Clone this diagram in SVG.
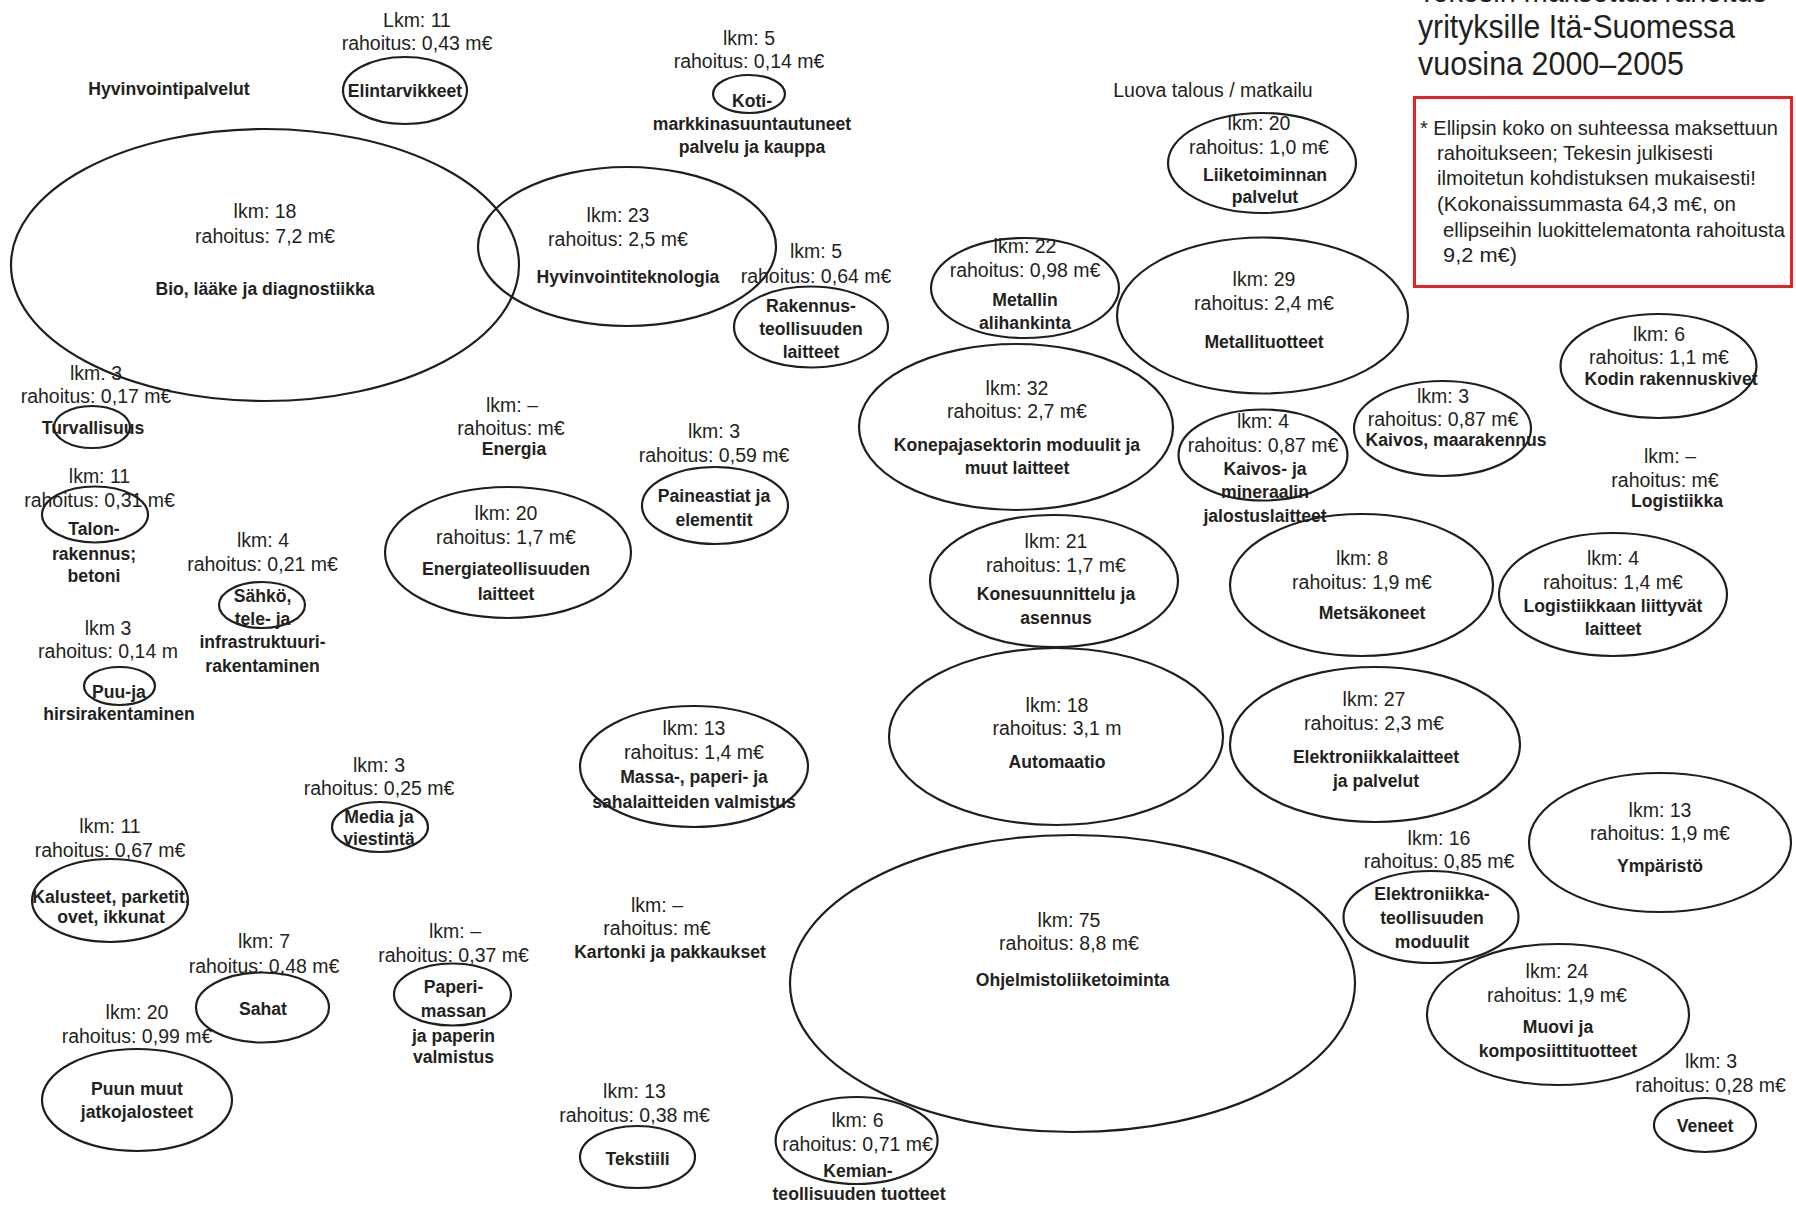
<svg xmlns="http://www.w3.org/2000/svg" width="1796" height="1205" viewBox="0 0 1796 1205">
<style>
.e{fill:none;stroke:#1e1e1e;stroke-width:2.2}
text{font-family:"Liberation Sans",Arial,sans-serif;fill:#231f20}
.n{font-size:19.5px;text-anchor:middle}
.b{font-size:17.6px;font-weight:700;text-anchor:middle}
.t{font-size:33px}
.x{font-size:21px}
</style>
<rect width="1796" height="1205" fill="#fff"/>
<g id="title">
<text class="t" x="1418" y="2" textLength="349" lengthAdjust="spacingAndGlyphs">Tekesin maksettua rahoitus</text>
<text class="t" x="1418" y="38" textLength="317" lengthAdjust="spacingAndGlyphs">yrityksille Itä-Suomessa</text>
<text class="t" x="1418" y="75" textLength="266" lengthAdjust="spacingAndGlyphs">vuosina 2000–2005</text>
</g>
<g id="note">
<rect x="1414.5" y="97.5" width="377" height="189" fill="none" stroke="#e8202a" stroke-width="3"/>
<text class="x" x="1420" y="135" textLength="358" lengthAdjust="spacingAndGlyphs">* Ellipsin koko on suhteessa maksettuun</text>
<text class="x" x="1437" y="160" textLength="276" lengthAdjust="spacingAndGlyphs">rahoitukseen; Tekesin julkisesti</text>
<text class="x" x="1437" y="185" textLength="319" lengthAdjust="spacingAndGlyphs">ilmoitetun kohdistuksen mukaisesti!</text>
<text class="x" x="1437" y="211" textLength="299" lengthAdjust="spacingAndGlyphs">(Kokonaissummasta 64,3 m€, on</text>
<text class="x" x="1443" y="237" textLength="342" lengthAdjust="spacingAndGlyphs">ellipseihin luokittelematonta rahoitusta</text>
<text class="x" x="1443" y="262" textLength="74" lengthAdjust="spacingAndGlyphs">9,2 m€)</text>
</g>
<g id="connectors"></g>
<g id="hyvinvointipalvelut"><text class="b" x="169" y="95">Hyvinvointipalvelut</text></g>
<g id="elintarvikkeet"><ellipse class="e" cx="405" cy="90.5" rx="62" ry="33.5"/><text class="n" x="417" y="27">Lkm: 11</text><text class="n" x="417" y="50">rahoitus: 0,43 m€</text><text class="b" x="405" y="97">Elintarvikkeet</text></g>
<g id="bio"><ellipse class="e" cx="265" cy="265" rx="254" ry="136"/><text class="n" x="265" y="218">lkm: 18</text><text class="n" x="265" y="243">rahoitus: 7,2 m€</text><text class="b" x="265" y="295">Bio, lääke ja diagnostiikka</text></g>
<g id="koti"><ellipse class="e" cx="749" cy="94" rx="36" ry="19"/><text class="n" x="749" y="45">lkm: 5</text><text class="n" x="749" y="68">rahoitus: 0,14 m€</text><text class="b" x="752" y="107">Koti-</text><text class="b" x="752" y="130">markkinasuuntautuneet</text><text class="b" x="752" y="153">palvelu ja kauppa</text></g>
<g id="hyvinvointiteknologia"><ellipse class="e" cx="627" cy="246.5" rx="149" ry="79.5"/><text class="n" x="618" y="222">lkm: 23</text><text class="n" x="618" y="246">rahoitus: 2,5 m€</text><text class="b" x="628" y="283">Hyvinvointiteknologia</text></g>
<g id="rakennus"><ellipse class="e" cx="811" cy="327" rx="77" ry="40.5"/><text class="n" x="816" y="258">lkm: 5</text><text class="n" x="816" y="283">rahoitus: 0,64 m€</text><text class="b" x="811" y="312">Rakennus-</text><text class="b" x="811" y="335">teollisuuden</text><text class="b" x="811" y="358">laitteet</text></g>
<g id="metallin"><ellipse class="e" cx="1025" cy="288" rx="94" ry="50"/><text class="n" x="1025" y="253">lkm: 22</text><text class="n" x="1025" y="277">rahoitus: 0,98 m€</text><text class="b" x="1025" y="306">Metallin</text><text class="b" x="1025" y="329">alihankinta</text></g>
<g id="metallituotteet"><ellipse class="e" cx="1262.5" cy="315.5" rx="145.5" ry="78"/><text class="n" x="1264" y="286">lkm: 29</text><text class="n" x="1264" y="310">rahoitus: 2,4 m€</text><text class="b" x="1264" y="348">Metallituotteet</text></g>
<g id="luova"><text class="n" x="1213" y="97">Luova talous /  matkailu</text></g>
<g id="liiketoiminnan"><ellipse class="e" cx="1262" cy="163" rx="94" ry="50"/><text class="n" x="1259" y="130">lkm: 20</text><text class="n" x="1259" y="154">rahoitus: 1,0 m€</text><text class="b" x="1265" y="181">Liiketoiminnan</text><text class="b" x="1265" y="203">palvelut</text></g>
<g id="konepaja"><ellipse class="e" cx="1016" cy="427" rx="157" ry="83"/><text class="n" x="1017" y="395">lkm: 32</text><text class="n" x="1017" y="418">rahoitus: 2,7 m€</text><text class="b" x="1017" y="451">Konepajasektorin moduulit ja</text><text class="b" x="1017" y="474">muut laitteet</text></g>
<g id="kaivos-ja"><ellipse class="e" cx="1263" cy="455" rx="84.5" ry="45.5"/><text class="n" x="1263" y="428">lkm: 4</text><text class="n" x="1263" y="452">rahoitus: 0,87 m€</text><text class="b" x="1265" y="475">Kaivos- ja</text><text class="b" x="1265" y="498">mineraalin</text><text class="b" x="1265" y="522">jalostuslaitteet</text></g>
<g id="kaivos-maarakennus"><ellipse class="e" cx="1442.5" cy="428.5" rx="88.5" ry="47.5"/><text class="n" x="1443" y="403">lkm: 3</text><text class="n" x="1443" y="426">rahoitus: 0,87 m€</text><text class="b" x="1456" y="446">Kaivos, maarakennus</text></g>
<g id="kodin"><ellipse class="e" cx="1658.5" cy="366" rx="98" ry="52"/><text class="n" x="1659" y="341">lkm: 6</text><text class="n" x="1659" y="364">rahoitus: 1,1 m€</text><text class="b" x="1671" y="385">Kodin rakennuskivet</text></g>
<g id="logistiikka"><text class="n" x="1670" y="463">lkm: –</text><text class="n" x="1665" y="487">rahoitus: m€</text><text class="b" x="1677" y="507">Logistiikka</text></g>
<g id="logistiikkaan"><ellipse class="e" cx="1613" cy="594.5" rx="114" ry="61.5"/><text class="n" x="1613" y="565">lkm: 4</text><text class="n" x="1613" y="589">rahoitus: 1,4 m€</text><text class="b" x="1613" y="612">Logistiikkaan liittyvät</text><text class="b" x="1613" y="635">laitteet</text></g>
<g id="metsakoneet"><ellipse class="e" cx="1361.5" cy="585" rx="131.5" ry="71"/><text class="n" x="1362" y="565">lkm: 8</text><text class="n" x="1362" y="589">rahoitus: 1,9 m€</text><text class="b" x="1372" y="619">Metsäkoneet</text></g>
<g id="konesuunnittelu"><ellipse class="e" cx="1054" cy="581" rx="124" ry="66"/><text class="n" x="1056" y="548">lkm: 21</text><text class="n" x="1056" y="572">rahoitus: 1,7 m€</text><text class="b" x="1056" y="600">Konesuunnittelu ja</text><text class="b" x="1056" y="624">asennus</text></g>
<g id="paineastiat"><ellipse class="e" cx="715" cy="505.5" rx="73" ry="38.5"/><text class="n" x="714" y="438">lkm: 3</text><text class="n" x="714" y="462">rahoitus: 0,59 m€</text><text class="b" x="714" y="502">Paineastiat ja</text><text class="b" x="714" y="526">elementit</text></g>
<g id="energia"><text class="n" x="512" y="412">lkm: –</text><text class="n" x="511" y="435">rahoitus: m€</text><text class="b" x="514" y="455">Energia</text></g>
<g id="energiateollisuuden"><ellipse class="e" cx="508" cy="552.5" rx="123" ry="65.5"/><text class="n" x="506" y="520">lkm: 20</text><text class="n" x="506" y="544">rahoitus: 1,7 m€</text><text class="b" x="506" y="575">Energiateollisuuden</text><text class="b" x="506" y="600">laitteet</text></g>
<g id="turvallisuus"><ellipse class="e" cx="92" cy="427" rx="38" ry="21"/><text class="n" x="96" y="380">lkm: 3</text><text class="n" x="96" y="403">rahoitus: 0,17 m€</text><text class="b" x="93" y="434">Turvallisuus</text></g>
<g id="talon"><ellipse class="e" cx="95" cy="514.5" rx="53" ry="28"/><text class="n" x="99.5" y="483">lkm: 11</text><text class="n" x="99.5" y="507">rahoitus: 0,31 m€</text><text class="b" x="94" y="535">Talon-</text><text class="b" x="94" y="560">rakennus;</text><text class="b" x="94" y="582">betoni</text></g>
<g id="sahko"><ellipse class="e" cx="262" cy="605" rx="43" ry="23"/><text class="n" x="263" y="547">lkm: 4</text><text class="n" x="262.5" y="571">rahoitus: 0,21 m€</text><text class="b" x="262.5" y="602">Sähkö,</text><text class="b" x="262.5" y="625">tele- ja</text><text class="b" x="262.5" y="648">infrastruktuuri-</text><text class="b" x="262.5" y="672">rakentaminen</text></g>
<g id="puu-ja"><ellipse class="e" cx="119.5" cy="686" rx="35.5" ry="19"/><text class="n" x="108" y="635">lkm 3</text><text class="n" x="108" y="658">rahoitus: 0,14 m</text><text class="b" x="119" y="698">Puu-ja</text><text class="b" x="119" y="720">hirsirakentaminen</text></g>
<g id="massa"><ellipse class="e" cx="694" cy="766.5" rx="114" ry="60.5"/><text class="n" x="694" y="735">lkm: 13</text><text class="n" x="694" y="759">rahoitus: 1,4 m€</text><text class="b" x="694" y="783">Massa-, paperi- ja</text><text class="b" x="694" y="808">sahalaitteiden valmistus</text></g>
<g id="automaatio"><ellipse class="e" cx="1056" cy="736.5" rx="167" ry="88.5"/><text class="n" x="1057" y="712">lkm: 18</text><text class="n" x="1057" y="735">rahoitus: 3,1 m</text><text class="b" x="1057" y="768">Automaatio</text></g>
<g id="elektroniikkalaitteet"><ellipse class="e" cx="1375" cy="744.5" rx="145" ry="77.5"/><text class="n" x="1374" y="706">lkm: 27</text><text class="n" x="1374" y="730">rahoitus: 2,3 m€</text><text class="b" x="1376" y="763">Elektroniikkalaitteet</text><text class="b" x="1376" y="787">ja palvelut</text></g>
<g id="ymparisto"><ellipse class="e" cx="1660" cy="842.5" rx="131" ry="69.5"/><text class="n" x="1660" y="817">lkm: 13</text><text class="n" x="1660" y="840">rahoitus: 1,9 m€</text><text class="b" x="1660" y="872">Ympäristö</text></g>
<g id="elektroniikkateollisuus"><ellipse class="e" cx="1431" cy="917" rx="87.5" ry="46"/><text class="n" x="1439" y="845">lkm: 16</text><text class="n" x="1439" y="868">rahoitus: 0,85 m€</text><text class="b" x="1432" y="900">Elektroniikka-</text><text class="b" x="1432" y="924">teollisuuden</text><text class="b" x="1432" y="948">moduulit</text></g>
<g id="muovi"><ellipse class="e" cx="1558" cy="1014.5" rx="131" ry="70.5"/><text class="n" x="1557" y="978">lkm: 24</text><text class="n" x="1557" y="1002">rahoitus: 1,9 m€</text><text class="b" x="1558" y="1033">Muovi ja</text><text class="b" x="1558" y="1057">komposiittituotteet</text></g>
<g id="veneet"><ellipse class="e" cx="1705" cy="1125" rx="51" ry="27"/><text class="n" x="1711" y="1068">lkm: 3</text><text class="n" x="1710.5" y="1092">rahoitus: 0,28 m€</text><text class="b" x="1705" y="1132">Veneet</text></g>
<g id="ohjelmisto"><ellipse class="e" cx="1072.5" cy="983.5" rx="282.5" ry="148.5"/><text class="n" x="1069" y="927">lkm: 75</text><text class="n" x="1069" y="950">rahoitus: 8,8 m€</text><text class="b" x="1072.6" y="986">Ohjelmistoliiketoiminta</text></g>
<g id="kemian"><ellipse class="e" cx="856.6" cy="1140.5" rx="81" ry="43.5"/><text class="n" x="857.5" y="1127">lkm: 6</text><text class="n" x="857.5" y="1151">rahoitus: 0,71 m€</text><text class="b" x="858" y="1177">Kemian-</text><text class="b" x="859" y="1200">teollisuuden tuotteet</text></g>
<g id="tekstiili"><ellipse class="e" cx="637.5" cy="1157" rx="57.5" ry="31"/><text class="n" x="634.5" y="1098">lkm: 13</text><text class="n" x="634.5" y="1122">rahoitus: 0,38 m€</text><text class="b" x="637.6" y="1165">Tekstiili</text></g>
<g id="kartonki"><text class="n" x="657" y="912">lkm: –</text><text class="n" x="657" y="935">rahoitus: m€</text><text class="b" x="670" y="958">Kartonki ja pakkaukset</text></g>
<g id="media"><ellipse class="e" cx="380" cy="827" rx="48" ry="25"/><text class="n" x="379" y="772">lkm: 3</text><text class="n" x="379" y="795">rahoitus: 0,25 m€</text><text class="b" x="379" y="823">Media ja</text><text class="b" x="379" y="845">viestintä</text></g>
<g id="kalusteet"><ellipse class="e" cx="110" cy="900.5" rx="78" ry="41.5"/><text class="n" x="110" y="833">lkm: 11</text><text class="n" x="110" y="857">rahoitus: 0,67 m€</text><text class="b" x="111" y="903">Kalusteet, parketit,</text><text class="b" x="111" y="923">ovet, ikkunat</text></g>
<g id="sahat"><ellipse class="e" cx="262.5" cy="1007.5" rx="66.5" ry="35"/><text class="n" x="264" y="948">lkm: 7</text><text class="n" x="264" y="973">rahoitus: 0,48 m€</text><text class="b" x="263" y="1015">Sahat</text></g>
<g id="paperimassan"><ellipse class="e" cx="452.5" cy="994.5" rx="58.5" ry="31"/><text class="n" x="455" y="938">lkm: –</text><text class="n" x="453.5" y="962">rahoitus: 0,37 m€</text><text class="b" x="453.5" y="993">Paperi-</text><text class="b" x="453.5" y="1017">massan</text><text class="b" x="453.5" y="1042">ja paperin</text><text class="b" x="453.5" y="1063">valmistus</text></g>
<g id="puun-muut"><ellipse class="e" cx="137" cy="1100" rx="95" ry="51"/><text class="n" x="137" y="1019">lkm: 20</text><text class="n" x="137" y="1043">rahoitus: 0,99 m€</text><text class="b" x="137" y="1095">Puun muut</text><text class="b" x="137" y="1118">jatkojalosteet</text></g>
</svg>
